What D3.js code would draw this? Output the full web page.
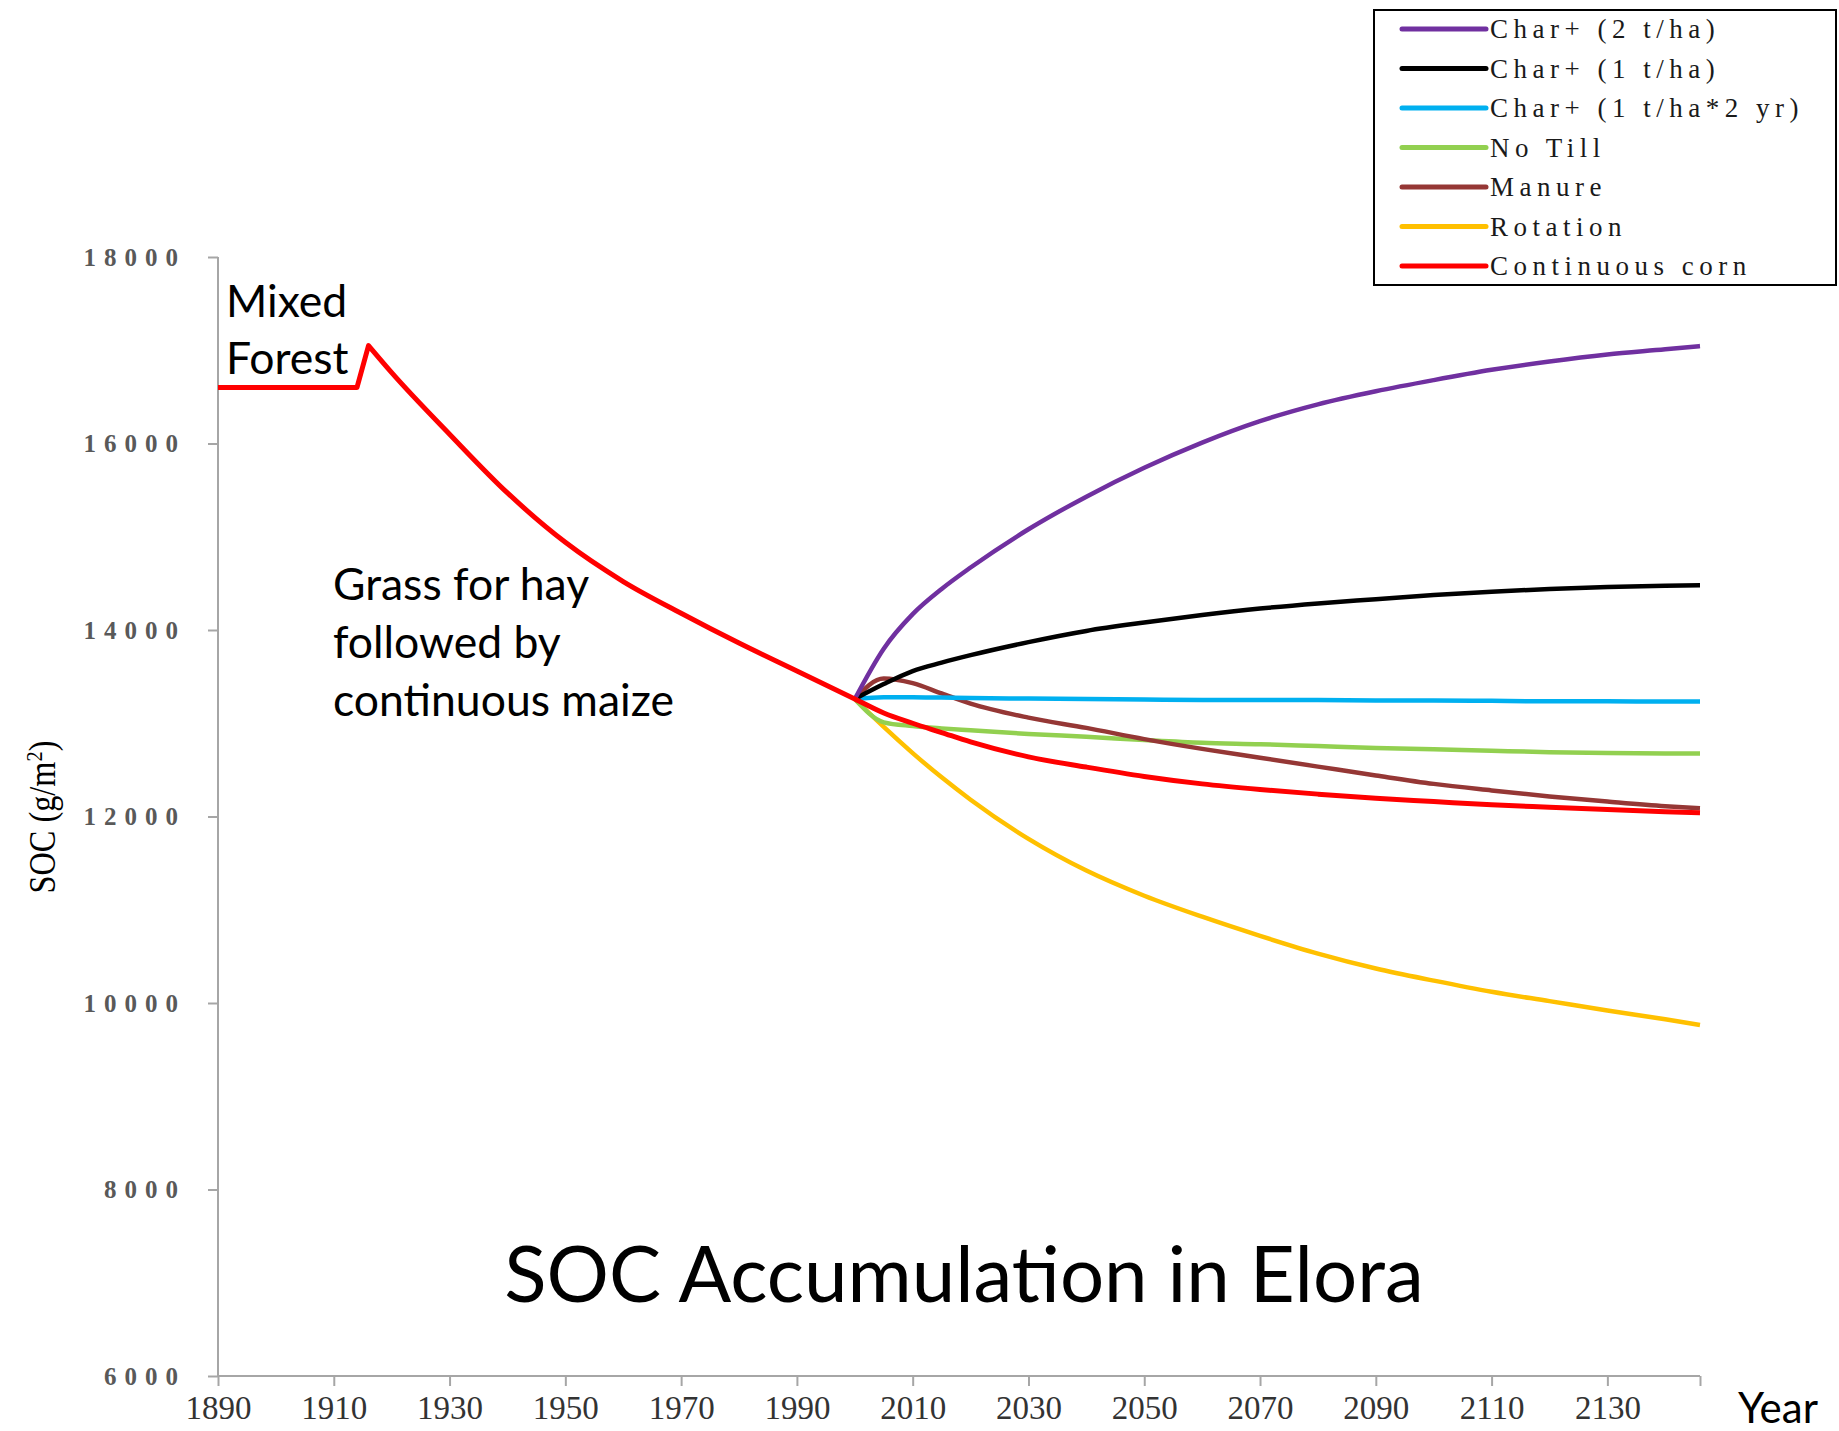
<!DOCTYPE html>
<html>
<head>
    <title>SOC Accumulation in Elora</title>
    <script src="https://cdnjs.cloudflare.com/ajax/libs/d3/7.8.5/d3.min.js"></script>
    <style>
        body { margin: 0; background: #fff; }
    </style>
</head>
<body>
    <div id="vis"></div>

    <script>
        // history, shared by every scenario (forest, then hay + continuous corn up to 2000)
        var histYears  = [1890, 1914, 1916, 1920, 1930, 1940, 1950, 1960, 1970, 1980, 1990, 2000];
        var histValues = [16600, 16600, 17050, 16760, 16100, 15470, 14940, 14520, 14180, 13860, 13560, 13260];

        // scenario years after 2000
        var years = [2000, 2005, 2010, 2015, 2020, 2030, 2040, 2050, 2060, 2070, 2080, 2090, 2100, 2110, 2120, 2130, 2140, 2146];

        var char2   = [13260, 13800, 14170, 14440, 14670, 15080, 15430, 15740, 16010, 16240, 16420, 16560, 16680, 16790, 16880, 16955, 17010, 17045];
        var char1   = [13260, 13420, 13560, 13650, 13730, 13870, 13990, 14080, 14160, 14230, 14285, 14330, 14375, 14410, 14440, 14460, 14475, 14480];
        var char1x2 = [13260, 13280, 13280, 13275, 13270, 13265, 13260, 13255, 13250, 13250, 13250, 13245, 13245, 13240, 13235, 13235, 13232, 13232];
        var noTill  = [13260, 13010, 12970, 12945, 12925, 12885, 12855, 12820, 12790, 12775, 12755, 12735, 12720, 12705, 12690, 12680, 12675, 12675];
        var manure  = [13260, 13480, 13430, 13320, 13210, 13060, 12950, 12830, 12725, 12630, 12535, 12440, 12350, 12280, 12215, 12160, 12110, 12088];
        var rotation= [13260, 12960, 12680, 12420, 12180, 11760, 11420, 11150, 10925, 10720, 10530, 10370, 10240, 10120, 10020, 9920, 9825, 9765];
        var corn    = [13260, 13110, 13000, 12900, 12800, 12640, 12530, 12430, 12350, 12290, 12240, 12195, 12160, 12125, 12100, 12075, 12050, 12040];

        var seriesNames  = ["Char+ (2 t/ha)", "Char+ (1 t/ha)", "Char+ (1 t/ha*2 yr)", "No Till", "Manure", "Rotation", "Continuous corn"];
        var seriesColors = ["#7030a0", "#000000", "#00b0f0", "#92d050", "#953735", "#ffc000", "#ff0000"];
        var seriesValues = [char2, char1, char1x2, noTill, manure, rotation, corn];

        var xTicks = [1890, 1910, 1930, 1950, 1970, 1990, 2010, 2030, 2050, 2070, 2090, 2110, 2130, 2146];
        var yTicks = [6000, 8000, 10000, 12000, 14000, 16000, 18000];

        var W = 1839, H = 1431;

        var svg = d3.select("#vis").append("svg")
            .attr("width", W)
            .attr("height", H);

        var x = d3.scaleLinear().domain([1890, 2146]).range([218, 1700]);
        var y = d3.scaleLinear().domain([6000, 18000]).range([1376, 257]);

        // x axis
        var xAxis = svg.append("g")
            .attr("transform", "translate(0," + y(6000) + ")")
            .call(d3.axisBottom(x).tickValues(xTicks).tickSize(10).tickPadding(10)
                .tickFormat(function(d) { return d == 2146 ? "" : d; }));
        xAxis.select(".domain").attr("stroke", "#a6a6a6").attr("stroke-width", 2).attr("d", "M" + x(1890) + ",0H" + x(2146));
        xAxis.selectAll(".tick line").attr("stroke", "#a6a6a6").attr("stroke-width", 2);
        xAxis.selectAll(".tick text")
            .style("font-family", "'Liberation Serif', serif")
            .style("font-size", "33px")
            .attr("fill", "#333");

        // y axis
        var yAxis = svg.append("g")
            .attr("transform", "translate(" + x(1890) + ",0)")
            .call(d3.axisLeft(y).tickValues(yTicks).tickSize(10).tickPadding(22).tickFormat(d3.format("d")));
        yAxis.select(".domain").attr("stroke", "#a6a6a6").attr("stroke-width", 2).attr("d", "M0," + y(18000) + "V" + y(6000));
        yAxis.selectAll(".tick line").attr("stroke", "#a6a6a6").attr("stroke-width", 2);
        yAxis.selectAll(".tick text")
            .style("font-family", "'Liberation Serif', serif")
            .style("font-size", "25px")
            .style("font-weight", "bold")
            .style("letter-spacing", "8px")
            .attr("fill", "#595959");

        // y axis title
        var yt = svg.append("text")
            .attr("transform", "translate(55,817) rotate(-90) scale(0.85,1)")
            .attr("text-anchor", "middle")
            .style("font-family", "'Liberation Serif', serif")
            .style("font-size", "38px")
            .attr("fill", "#000");
        yt.append("tspan").text("SOC (g/m");
        yt.append("tspan").attr("baseline-shift", "super").style("font-size", "24px").text("2");
        yt.append("tspan").text(")");

        var straight = d3.line()
            .x(function(d) { return x(d[0]); })
            .y(function(d) { return y(d[1]); });
        var line = d3.line()
            .x(function(d) { return x(d[0]); })
            .y(function(d) { return y(d[1]); })
            .curve(d3.curveMonotoneX);

        // scenarios; corn (with the history) drawn last
        var order = [5, 3, 4, 2, 1, 0, 6];
        order.forEach(function(i) {
            var pts = years.map(function(yr, k) { return [yr, seriesValues[i][k]]; });
            var d;
            if (i == 6) {
                pts = histYears.map(function(yr, k) { return [yr, histValues[k]]; }).concat(pts.slice(1));
                d = straight(pts.slice(0, 3)) + line(pts.slice(2)).replace(/^M/, "L");
            } else {
                d = line(pts);
            }
            svg.append("path")
                .attr("fill", "none")
                .attr("stroke", seriesColors[i])
                .attr("stroke-width", i == 6 ? 5 : 4.5)
                .attr("stroke-linejoin", "round")
                .attr("d", d);
        });

        // legend
        var lg = svg.append("g");
        lg.append("rect")
            .attr("x", 1374).attr("y", 10).attr("width", 462).attr("height", 275)
            .attr("fill", "#fff").attr("stroke", "#000").attr("stroke-width", 2);
        seriesNames.forEach(function(n, i) {
            var ly = 29 + i * 39.5;
            lg.append("line")
                .attr("x1", 1402).attr("x2", 1486).attr("y1", ly).attr("y2", ly)
                .attr("stroke", seriesColors[i]).attr("stroke-width", 5).attr("stroke-linecap", "round");
            lg.append("text")
                .attr("x", 1490).attr("y", ly + 9)
                .style("font-family", "'Liberation Serif', serif")
                .style("font-size", "27px")
                .style("letter-spacing", "5.5px")
                .attr("fill", "#1a1a1a")
                .text(n);
        });

        // annotations
        var sans = "Lato, 'Open Sans', sans-serif";
        function label(lines, x0, y0, step, size) {
            lines.forEach(function(t, i) {
                svg.append("text")
                    .attr("x", x0).attr("y", y0 + i * step)
                    .style("font-family", sans)
                    .style("font-size", size + "px")
                    .attr("fill", "#000")
                    .text(t);
            });
        }
        label(["Mixed", "Forest"], 226, 317, 57, 44.5);
        label(["Grass for hay", "followed by", "continuous maize"], 333, 600, 58, 44.5);

        svg.append("text")
            .attr("x", 964).attr("y", 1302)
            .attr("text-anchor", "middle")
            .style("font-family", sans)
            .style("font-size", "78px")
            .attr("fill", "#000")
            .text("SOC Accumulation in Elora");

        svg.append("text")
            .attr("x", 1738).attr("y", 1423)
            .style("font-family", sans)
            .style("font-size", "42px")
            .attr("fill", "#000")
            .text("Year");
    </script>
</body>
</html>
